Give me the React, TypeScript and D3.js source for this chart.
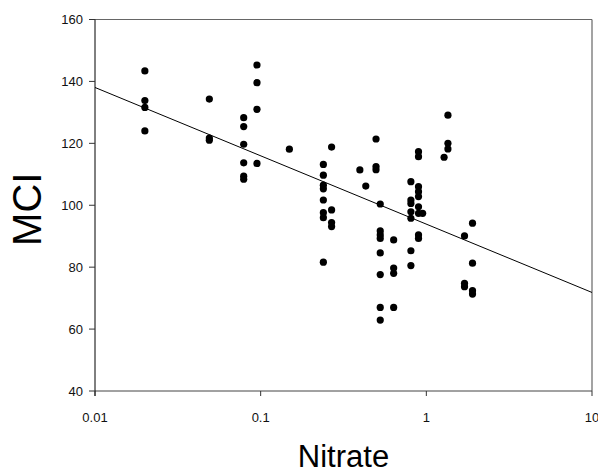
import React from "react";
import * as d3 from "d3";

// nitrate (x) and MCI (y), grouped by site column
const nitrate = [
  0.02, 0.02, 0.02, 0.02,
  0.049, 0.049, 0.049,
  0.079, 0.079, 0.079, 0.079, 0.079, 0.079,
  0.095, 0.095, 0.095, 0.095,
  0.149,
  0.239, 0.239, 0.239, 0.239, 0.239, 0.239, 0.239, 0.239,
  0.268, 0.268, 0.268, 0.268,
  0.397, 0.431,
  0.497, 0.497, 0.497,
  0.527, 0.527, 0.527, 0.527, 0.527, 0.527, 0.527, 0.527,
  0.635, 0.635, 0.635, 0.635,
  0.807, 0.807, 0.807, 0.807, 0.807, 0.807, 0.807,
  0.897, 0.897, 0.897, 0.897, 0.897, 0.897, 0.897, 0.897, 0.897,
  0.95,
  1.28, 1.35, 1.35, 1.35,
  1.7, 1.7, 1.7,
  1.9, 1.9, 1.9, 1.9,
];

const mci = [
  143.4, 133.8, 131.6, 124.0,
  134.3, 121.7, 121.0,
  128.3, 125.4, 119.7, 113.7, 109.4, 108.4,
  145.3, 139.6, 131.0, 113.5,
  118.1,
  113.2, 109.7, 106.5, 105.3, 101.7, 97.6, 96.0, 81.6,
  118.8, 98.5, 94.4, 93.1,
  111.4, 106.2,
  121.4, 112.5, 111.5,
  100.4, 91.7, 90.4, 89.3, 84.6, 77.6, 67.0, 62.9,
  88.8, 79.7, 78.0, 67.0,
  107.6, 101.7, 100.6, 97.9, 95.8, 85.3, 80.5,
  117.3, 115.7, 106.0, 104.4, 102.8, 99.5, 97.4, 90.4, 89.3,
  97.4,
  115.5, 129.1, 120.0, 118.2,
  90.1, 74.8, 73.7,
  94.2, 81.3, 72.4, 71.3,
];

// fitted line MCI = intercept + slope * log10(nitrate)
const fitIntercept = 93.9;
const fitSlope = -22.07;

const xTicks = [0.01, 0.1, 1, 10];
const xTickLabels = ["0.01", "0.1", "1", "10"];
const yTicks = [40, 60, 80, 100, 120, 140, 160];

const width = 598;
const height = 472;
const margin = { top: 19.5, right: 6, bottom: 81, left: 95 };

export default function App() {
  const x = d3
    .scaleLog()
    .domain([0.01, 10])
    .range([margin.left, width - margin.right]);
  const y = d3
    .scaleLinear()
    .domain([40, 160])
    .range([height - margin.bottom, margin.top]);

  const x0 = x.range()[0];
  const x1 = x.range()[1];
  const y0 = y.range()[0];
  const y1 = y.range()[1];

  const fitLine = d3
    .line<number>()
    .x((d) => x(d))
    .y((d) => y(fitIntercept + fitSlope * Math.log10(d)));

  const font = "'Liberation Sans', Arial, sans-serif";

  return (
    <svg
      width={width}
      height={height}
      style={{ position: "absolute", left: 0, top: 0, background: "#fff" }}
      fontFamily={font}
    >
      {/* frame */}
      <line x1={x0} x2={x1} y1={y1} y2={y1} stroke="#666" strokeWidth={1.2} />
      <line x1={x1} x2={x1} y1={y1} y2={y0} stroke="#666" strokeWidth={1.2} />
      <line x1={x0} x2={x1} y1={y0} y2={y0} stroke="#444" strokeWidth={1} />
      <line x1={x0} x2={x0} y1={y1} y2={y0 + 5} stroke="#000" strokeWidth={1} />

      {/* y ticks */}
      {yTicks.map((t) => (
        <g key={"y" + t}>
          <line x1={x0 - 6} x2={x0} y1={y(t)} y2={y(t)} stroke="#333" />
          <text
            x={x0 - 12}
            y={y(t)}
            textAnchor="end"
            dominantBaseline="central"
            fontSize={13}
            fill="#111"
          >
            {t}
          </text>
        </g>
      ))}

      {/* x ticks */}
      {xTicks.map((t, i) => (
        <g key={"x" + t}>
          <line x1={x(t)} x2={x(t)} y1={y0} y2={y0 + 5} stroke="#333" />
          <text
            x={x(t)}
            y={y0 + 31}
            textAnchor="middle"
            fontSize={13}
            fill="#111"
          >
            {xTickLabels[i]}
          </text>
        </g>
      ))}

      {/* regression line */}
      <path d={fitLine([0.01, 10]) || ""} fill="none" stroke="#000" strokeWidth={1} />

      {/* points */}
      {nitrate.map((n, i) => (
        <circle key={i} cx={x(n)} cy={y(mci[i])} r={3.6} fill="#000" />
      ))}

      {/* axis titles */}
      <text
        x={(x0 + x1) / 2}
        y={466.5}
        textAnchor="middle"
        fontSize={31}
        fill="#000"
      >
        Nitrate
      </text>
      <text
        transform={`translate(40.5, ${(y0 + y1) / 2 + 4}) rotate(-90)`}
        textAnchor="middle"
        fontSize={40}
        fill="#000"
      >
        MCI
      </text>
    </svg>
  );
}
